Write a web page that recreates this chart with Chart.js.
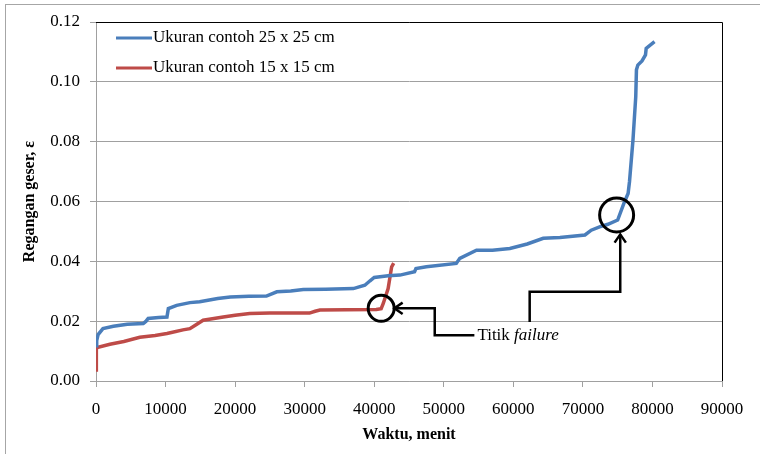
<!DOCTYPE html>
<html>
<head>
<meta charset="utf-8">
<script src="https://cdn.jsdelivr.net/npm/chart.js@4/dist/chart.umd.min.js"></script>
<style>
  body { margin: 0; background: #fff; }
  #grafik { display: block; }
</style>
</head>
<body>
<canvas id="grafik" width="760" height="454"></canvas>
<script>
// waktu (menit) dan regangan geser, contoh 25 x 25 cm
const waktuBesar = [0, 100, 300, 1000, 2500, 4500, 6800, 7200, 7500, 9000, 10200, 10400, 11600, 13500, 14900, 17500, 19300, 22000, 24500, 26000, 28000, 29800, 33000, 37000, 38650, 39400, 40000, 42000, 43700, 45800, 46000, 47500, 51800, 52300, 54700, 57000, 59500, 62000, 64300, 66700, 70300, 71200, 72400, 73600, 75000, 76000, 76500, 76700, 77200, 77600, 77700, 77900, 78500, 79000, 79100, 80300];
const regBesar = [0.0118, 0.0135, 0.0155, 0.0175, 0.0183, 0.0190, 0.0192, 0.0200, 0.0209, 0.0212, 0.0214, 0.0242, 0.0253, 0.0262, 0.0265, 0.0276, 0.0281, 0.0283, 0.0284, 0.0298, 0.0301, 0.0306, 0.0307, 0.0309, 0.0320, 0.0335, 0.0346, 0.0352, 0.0354, 0.0365, 0.0376, 0.0382, 0.0393, 0.0410, 0.0437, 0.0437, 0.0443, 0.0458, 0.0477, 0.0480, 0.0488, 0.0504, 0.0515, 0.0524, 0.0538, 0.0600, 0.0627, 0.0666, 0.0805, 0.0950, 0.1040, 0.1056, 0.1070, 0.1090, 0.1112, 0.1134];

// contoh 15 x 15 cm
const waktuKecil = [0, 50, 150, 2000, 4000, 6300, 8500, 10200, 11000, 12500, 13500, 14500, 15400, 16500, 18300, 20000, 22100, 25000, 30700, 31500, 32200, 36000, 40300, 41000, 41300, 42000, 42500, 42800];
const regKecil = [0.0037, 0.0105, 0.0112, 0.0123, 0.0132, 0.0146, 0.0152, 0.0159, 0.0163, 0.0171, 0.0175, 0.0190, 0.0203, 0.0207, 0.0214, 0.0220, 0.0226, 0.0227, 0.0227, 0.0233, 0.0237, 0.0238, 0.0239, 0.0242, 0.0259, 0.0309, 0.0381, 0.0394];

const labelSeri = ['Ukuran contoh 25 x 25 cm', 'Ukuran contoh 15 x 15 cm'];
const warnaSeri = ['#4a7ebb', '#be4b48'];

// titik failure dan jalur panah penunjuknya
const failureKecil = { x: 41000, y: 0.0243 };
const failureBesar = { x: 74850, y: 0.0555 };
const panahKecil = [{ x: 54400, y: 0.0153 }, { x: 48700, y: 0.0153 }, { x: 48700, y: 0.0243 }, { x: 42900, y: 0.0243 }];
const panahBesar = [{ x: 62350, y: 0.0197 }, { x: 62350, y: 0.0298 }, { x: 75370, y: 0.0298 }, { x: 75370, y: 0.0490 }];

const huruf = "'Liberation Serif', 'Times New Roman', serif";
const abu = '#a0a0a0';

function keTitik(xs, ys) {
    return xs.map((x, i) => ({ x: x, y: ys[i] }));
}

const bingkaiPlugin = {
    id: 'bingkai',
    beforeDraw(chart) {
        const ctx = chart.ctx;
        ctx.save();
        ctx.fillStyle = '#fff';
        ctx.fillRect(0, 0, chart.width, chart.height);
        ctx.strokeStyle = '#a6a6a6';
        ctx.lineWidth = 1;
        ctx.strokeRect(5.5, 4.5, 900, 600);
        ctx.restore();
    },
    afterDatasetsDraw(chart) {
        const ctx = chart.ctx;
        const a = chart.chartArea;
        const sx = chart.scales.x, sy = chart.scales.y;
        ctx.save();
        // garis tepi atas dan kanan area plot
        ctx.strokeStyle = '#000';
        ctx.lineWidth = 1;
        ctx.beginPath();
        ctx.moveTo(a.left, Math.round(a.top) + 0.5);
        ctx.lineTo(Math.round(a.right) + 0.5, Math.round(a.top) + 0.5);
        ctx.lineTo(Math.round(a.right) + 0.5, a.bottom);
        ctx.stroke();

        // legenda di dalam area plot
        ctx.font = '17px ' + huruf;
        ctx.textBaseline = 'middle';
        ctx.textAlign = 'left';
        labelSeri.forEach((teks, i) => {
            const y = 38 + i * 30;
            ctx.strokeStyle = warnaSeri[i];
            ctx.lineWidth = 3;
            ctx.beginPath();
            ctx.moveTo(a.left + 20, y);
            ctx.lineTo(a.left + 56, y);
            ctx.stroke();
            ctx.fillStyle = '#000';
            ctx.fillText(teks, a.left + 57, y);
        });

        // lingkaran titik failure
        ctx.strokeStyle = '#000';
        ctx.lineWidth = 3;
        [[failureKecil, 13], [failureBesar, 17]].forEach(([p, r]) => {
            ctx.beginPath();
            ctx.arc(sx.getPixelForValue(p.x), sy.getPixelForValue(p.y), r, 0, Math.PI * 2);
            ctx.stroke();
        });

        // panah
        ctx.lineWidth = 2.5;
        [panahKecil, panahBesar].forEach(jalur => {
            const pts = jalur.map(p => [sx.getPixelForValue(p.x), sy.getPixelForValue(p.y)]);
            ctx.beginPath();
            pts.forEach((p, i) => i ? ctx.lineTo(p[0], p[1]) : ctx.moveTo(p[0], p[1]));
            ctx.stroke();
            const [x1, y1] = pts[pts.length - 2];
            const [x2, y2] = pts[pts.length - 1];
            const sudut = Math.atan2(y2 - y1, x2 - x1);
            ctx.beginPath();
            ctx.moveTo(x2 - 10 * Math.cos(sudut - 0.6), y2 - 10 * Math.sin(sudut - 0.6));
            ctx.lineTo(x2, y2);
            ctx.lineTo(x2 - 10 * Math.cos(sudut + 0.6), y2 - 10 * Math.sin(sudut + 0.6));
            ctx.stroke();
        });

        // keterangan
        const tx = sx.getPixelForValue(panahKecil[0].x) + 3;
        const ty = sy.getPixelForValue(panahKecil[0].y);
        ctx.fillStyle = '#000';
        ctx.font = '17px ' + huruf;
        ctx.fillText('Titik ', tx, ty);
        const lebar = ctx.measureText('Titik ').width;
        ctx.font = 'italic 17px ' + huruf;
        ctx.fillText('failure', tx + lebar, ty);
        ctx.restore();
    }
};

const ctx = document.getElementById('grafik').getContext('2d');
const chart = new Chart(ctx, {
    type: 'scatter',
    data: {
        datasets: [
            {
                label: labelSeri[0],
                data: keTitik(waktuBesar, regBesar),
                borderColor: warnaSeri[0],
                backgroundColor: warnaSeri[0],
                showLine: true,
                borderWidth: 3.5,
                pointRadius: 0,
                tension: 0
            },
            {
                label: labelSeri[1],
                data: keTitik(waktuKecil, regKecil),
                borderColor: warnaSeri[1],
                backgroundColor: warnaSeri[1],
                showLine: true,
                borderWidth: 3.5,
                pointRadius: 0,
                tension: 0
            }
        ]
    },
    options: {
        responsive: false,
        animation: false,
        layout: { padding: { top: 22, right: 38, left: 0, bottom: 0 } },
        plugins: {
            legend: { display: false },
            tooltip: { enabled: false }
        },
        scales: {
            x: {
                type: 'linear',
                min: 0,
                max: 90000,
                afterFit(scale) { scale.height = 73; },
                ticks: {
                    stepSize: 10000,
                    padding: 12,
                    maxRotation: 0,
                    color: '#000',
                    font: { family: huruf, size: 17 },
                    callback: v => String(v)
                },
                grid: { drawOnChartArea: false, drawTicks: true, tickLength: 6, color: abu },
                border: { color: abu },
                title: {
                    display: true,
                    text: 'Waktu, menit',
                    color: '#000',
                    font: { family: huruf, size: 16, weight: 'bold' },
                    padding: { top: 0, bottom: 10 }
                }
            },
            y: {
                min: 0,
                max: 0.12,
                afterFit(scale) { scale.width = 96; },
                ticks: {
                    stepSize: 0.02,
                    padding: 10,
                    color: '#000',
                    font: { family: huruf, size: 17 },
                    callback: v => v.toFixed(2)
                },
                grid: { color: abu, tickLength: 6 },
                border: { color: abu },
                title: {
                    display: true,
                    text: 'Regangan geser, ε',
                    color: '#000',
                    font: { family: huruf, size: 16, weight: 'bold' },
                    padding: { top: 20, bottom: 0 }
                }
            }
        }
    },
    plugins: [bingkaiPlugin]
});
</script>
</body>
</html>
